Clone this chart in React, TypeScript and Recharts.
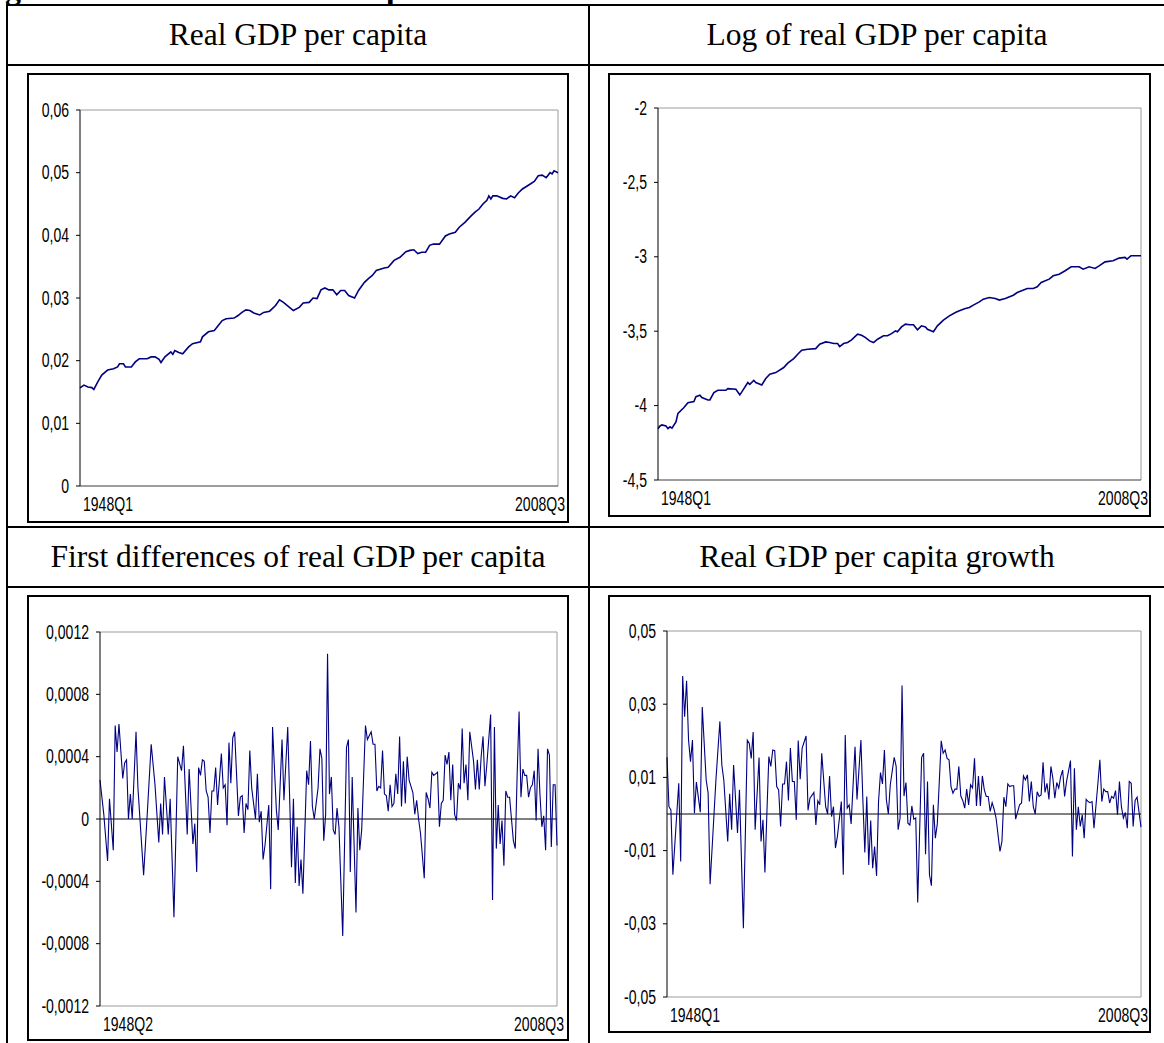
import { Line, LineChart, ReferenceLine, XAxis, YAxis } from 'recharts';

// [quarter index since 1948Q1, value]
const LEVEL: [number, number][] = [
  [0, 0.01565], [2, 0.0161], [4, 0.0158], [6, 0.0157], [7, 0.0154], [9, 0.0166], [11, 0.0177], [14, 0.0185], [17, 0.0187], [19, 0.019],
  [20, 0.0195], [22, 0.0195], [23, 0.019], [26, 0.019], [28, 0.0198], [30, 0.0203], [34, 0.0203], [36, 0.0206], [38, 0.0206], [40, 0.0202],
  [41, 0.0197], [43, 0.0206], [46, 0.0214], [47, 0.021], [48, 0.0216], [50, 0.0213], [52, 0.0211], [55, 0.0222], [57, 0.0227], [61, 0.023],
  [62, 0.0238], [65, 0.0246], [68, 0.0248], [70, 0.0256], [72, 0.0264], [74, 0.0267], [78, 0.0268], [80, 0.0272], [82, 0.0277], [84, 0.0281],
  [86, 0.028], [88, 0.0276], [91, 0.0273], [93, 0.0277], [96, 0.0279], [99, 0.0288], [101, 0.0297], [103, 0.0293], [105, 0.0288], [108, 0.028],
  [111, 0.0285], [113, 0.0292], [116, 0.0293], [118, 0.03], [120, 0.0299], [122, 0.0313], [124, 0.0316], [126, 0.0313], [128, 0.0313], [130, 0.0305],
  [132, 0.0312], [134, 0.0312], [136, 0.0304], [139, 0.03], [141, 0.0312], [144, 0.0325], [146, 0.0331], [148, 0.0336], [150, 0.0344], [154, 0.0348],
  [156, 0.0349], [159, 0.036], [162, 0.0365], [165, 0.0374], [167, 0.0376], [169, 0.0377], [171, 0.0371], [173, 0.0373], [175, 0.0373], [177, 0.0384],
  [179, 0.0386], [182, 0.0386], [185, 0.0399], [187, 0.0402], [190, 0.0405], [192, 0.0413], [195, 0.0421], [198, 0.0431], [200, 0.0437], [202, 0.0442],
  [204, 0.045], [206, 0.0456], [207, 0.0463], [208, 0.0458], [209, 0.0463], [211, 0.0463], [214, 0.0459], [216, 0.0458], [218, 0.0463], [220, 0.046],
  [222, 0.0468], [224, 0.0474], [227, 0.048], [230, 0.0486], [232, 0.0495], [234, 0.0496], [236, 0.0492], [238, 0.05], [239, 0.0498], [240, 0.0503],
  [242, 0.05],
];

const LOG_LEVEL: [number, number][] = [
  [0, -4.155], [1, -4.137], [2, -4.13], [4, -4.137], [5, -4.155], [6, -4.143], [7, -4.152], [9, -4.11], [10, -4.052], [13, -4.013],
  [15, -3.98], [18, -3.973], [19, -3.94], [21, -3.93], [22, -3.946], [25, -3.962], [26, -3.962], [28, -3.913], [30, -3.897], [34, -3.897],
  [35, -3.886], [39, -3.89], [41, -3.928], [42, -3.908], [45, -3.845], [46, -3.857], [48, -3.83], [49, -3.845], [52, -3.861], [54, -3.818],
  [56, -3.789], [59, -3.778], [63, -3.744], [65, -3.715], [68, -3.684], [70, -3.655], [72, -3.628], [75, -3.621], [79, -3.617], [81, -3.587],
  [84, -3.572], [86, -3.576], [88, -3.583], [90, -3.583], [91, -3.603], [93, -3.583], [95, -3.576], [97, -3.558], [100, -3.52], [102, -3.527],
  [104, -3.543], [106, -3.565], [108, -3.576], [110, -3.554], [113, -3.531], [115, -3.531], [117, -3.516], [119, -3.498], [120, -3.504], [122, -3.471],
  [124, -3.453], [126, -3.457], [128, -3.457], [130, -3.491], [132, -3.464], [134, -3.471], [135, -3.487], [138, -3.504], [140, -3.464], [143, -3.426],
  [146, -3.397], [149, -3.374], [151, -3.363], [154, -3.348], [156, -3.341], [158, -3.325], [161, -3.303], [163, -3.285], [166, -3.274], [169, -3.28],
  [171, -3.291], [174, -3.28], [178, -3.258], [180, -3.24], [185, -3.213], [188, -3.213], [190, -3.202], [192, -3.173], [196, -3.15], [198, -3.128],
  [201, -3.117], [204, -3.094], [207, -3.067], [211, -3.067], [213, -3.083], [216, -3.067], [219, -3.078], [221, -3.061], [224, -3.034], [228, -3.027],
  [231, -3.009], [234, -3.004], [235, -3.016], [237, -2.993], [239, -2.993], [242, -2.993],
];

const FIRST_DIFF: [number, number][] = [
  [1, 0.00025], [3, 0.00003], [5, -0.00027], [6, 0.00013], [8, -0.0002], [9, 0.0006], [10, 0.00043], [11, 0.00061], [13, 0.00026], [14, 0.00036],
  [15, 0.00038], [16, 0], [17, 0.00016], [18, 0], [20, 0.00056], [21, 0.0002], [24, -0.00036], [26, 0.00005], [28, 0.00048], [30, 0.00022],
  [32, -0.00015], [33, 0.0001], [34, -0.0001], [35, 0.00027], [37, -0.0001], [38, 0.00013], [40, -0.00063], [42, 0.0004], [44, 0.00031], [45, 0.00047],
  [47, -0.0001], [48, 0.00032], [50, -0.00016], [51, -0.00003], [52, -0.00034], [53, 0.00033], [54, 0.00028], [55, 0.00038], [56, 0.00037], [57, 0.00018],
  [58, 0.00014], [59, -0.00009], [60, 0.00018], [61, 0.00018], [62, 0.00033], [63, 0.00009], [65, 0.00042], [66, 0.0002], [67, 0.00022], [68, -0.00004],
  [69, 0.00049], [70, 0.00023], [71, 0.00052], [72, 0.00056], [74, 0.00002], [75, 0.00014], [76, 0.00015], [77, -0.00009], [78, 0.0001], [79, 0.00006],
  [80, 0.00044], [81, 0.0002], [83, 0], [84, 0.00029], [85, -0.00002], [86, 0.00005], [87, -0.00026], [88, -0.00017], [90, 0.00009], [91, -0.00045],
  [92, 0.00059], [94, 0.00006], [95, -0.00007], [97, 0.00051], [98, 0.00012], [100, 0.00059], [102, -0.00031], [103, 0.00013], [104, -0.00041], [105, -0.00005],
  [106, -0.00043], [107, -0.00026], [108, -0.00048], [110, 0.00031], [111, 0.00022], [112, 0.0005], [113, 0.00008], [114, 0], [116, 0.0002], [117, 0.00045],
  [118, 0.00039], [119, -0.00014], [120, 0.00003], [121, 0.00106], [122, 0.00016], [123, 0.00027], [124, -0.00007], [125, -0.0001], [126, 0.00007], [127, -0.00005],
  [129, -0.00075], [131, 0.00046], [132, 0.00051], [133, -0.00034], [134, 0.00027], [136, -0.0006], [137, 0.00007], [138, -0.0002], [139, -0.00007], [141, 0.0006],
  [142, 0.00051], [144, 0.00056], [145, 0.00048], [146, 0.00048], [147, 0.00018], [148, 0.00021], [149, 0.0002], [150, 0.00044], [151, 0.00016], [152, 0.00015],
  [153, 0.00005], [154, 0.00022], [155, 0.00008], [156, 0.0001], [157, 0.00029], [158, 0.00016], [159, 0.00053], [160, 0.00008], [161, 0.00037], [162, 0.0001],
  [163, 0.0004], [164, 0.00025], [166, 0.00017], [167, 0.00003], [168, 0.00012], [169, 0], [170, -0.00009], [172, -0.00038], [173, 0.00017], [174, 0.00013],
  [175, 0.00007], [176, 0.0003], [177, 0.00028], [178, 0.00029], [179, 0.0003], [180, -0.00005], [181, 0.0001], [182, 0.00012], [183, 0.00041], [184, 0.00035],
  [185, 0.00043], [186, 0.00012], [187, 0.00035], [188, 0.00003], [189, -0.00001], [190, 0.00023], [191, 0.00019], [192, 0.00058], [193, 0.00023], [194, 0.00035],
  [195, 0.00012], [196, 0.00056], [198, 0.00037], [199, 0.00019], [200, 0.00038], [201, 0.00019], [202, 0.0004], [203, 0.00053], [204, 0.00021], [205, 0.00035],
  [207, 0.00067], [208, -0.00052], [209, 0.00059], [210, -0.00019], [211, 0.00009], [212, -0.00016], [213, -0.00001], [214, -0.0003], [215, 0.00018], [216, 0.00014],
  [217, 0.00014], [219, -0.00014], [220, -0.00019], [221, 0.00029], [222, 0.00069], [223, 0.00014], [224, 0.00032], [225, 0.00028], [226, 0.00028], [227, 0.00014],
  [228, 0.0002], [229, 0.00022], [230, 0.00031], [231, -0.00001], [232, 0.00045], [233, 0.00016], [234, -0.00005], [235, 0.00002], [236, -0.0002], [237, 0.00045],
  [238, 0.00041], [239, -0.00018], [240, 0.00022], [241, 0.00022], [242, -0.00017],
];

const GROWTH: [number, number][] = [
  [0, 0.0155], [1, 0.002], [2, 0.0011], [3, -0.0166], [6, 0.0084], [7, -0.013], [8, 0.0377], [9, 0.0266], [10, 0.0364], [11, 0.0202],
  [12, 0.0143], [13, 0.0202], [14, 0.0002], [15, 0.0087], [17, 0.0005], [18, 0.0292], [20, 0.0093], [21, 0.0057], [22, -0.0192], [25, 0.0095],
  [27, 0.0253], [28, 0.0134], [29, 0.0093], [31, -0.0075], [32, 0.0055], [33, -0.0043], [34, 0.0134], [36, -0.0052], [37, 0.0066], [39, -0.0312],
  [41, 0.0202], [42, 0.0193], [43, 0.0152], [44, 0.0224], [45, -0.0043], [47, 0.0154], [48, -0.0075], [49, -0.0016], [50, -0.016], [51, 0.0002],
  [52, 0.0157], [53, 0.013], [54, 0.0175], [55, 0.0173], [56, 0.0075], [57, 0.0066], [58, -0.0034], [59, 0.0082], [60, 0.0082], [61, 0.0143],
  [62, 0.0037], [63, 0.018], [64, 0.0089], [65, 0.0089], [66, -0.0016], [67, 0.0201], [68, 0.0095], [69, 0.018], [71, 0.0213], [72, 0.001],
  [73, 0.0043], [75, 0.0059], [76, -0.003], [77, 0.0036], [78, 0.0025], [79, 0.0166], [81, 0.002], [82, 0], [83, 0.0104], [84, -0.0007],
  [85, 0.002], [86, -0.0093], [87, -0.0061], [89, 0.0034], [90, -0.0166], [91, 0.0216], [92, 0.0016], [93, 0.0025], [94, -0.0027], [96, 0.0184],
  [97, 0.004], [99, 0.0202], [100, 0.0039], [101, -0.0105], [102, 0.0048], [103, -0.0139], [104, -0.0018], [105, -0.0148], [106, -0.0089], [107, -0.0169],
  [108, 0.0034], [109, 0.0113], [110, 0.0082], [111, 0.0175], [112, 0.0039], [113, 0], [114, 0.008], [116, 0.0155], [117, 0.013], [118, -0.0043],
  [119, -0.0011], [120, 0.0351], [121, 0.0049], [122, 0.0086], [123, -0.0025], [124, -0.003], [125, 0.0022], [126, -0.0014], [127, -0.0011], [128, -0.0242],
  [130, 0.0155], [131, 0.0166], [132, -0.011], [133, 0.0089], [134, -0.0166], [135, -0.0196], [136, 0.0025], [137, -0.0066], [138, -0.0027], [140, 0.02],
  [141, 0.0166], [142, 0.0175], [143, 0.0152], [144, 0.0148], [145, 0.0075], [146, 0.0057], [147, 0.0068], [148, 0.0068], [149, 0.013], [150, 0.0049],
  [151, 0.0037], [152, 0.0016], [153, 0.0068], [154, 0.0025], [155, 0.008], [156, 0.0071], [157, 0.0152], [158, 0.0022], [159, 0.0104], [160, 0.0022],
  [161, 0.0104], [162, 0.0066], [163, 0.0048], [164, 0.0048], [165, 0.0007], [166, 0.0031], [167, 0.0013], [168, -0.0011], [170, -0.0102], [171, -0.0075],
  [172, 0.0046], [173, 0.002], [174, 0.0082], [175, 0.0075], [176, 0.0077], [177, 0.0077], [178, -0.0014], [180, 0.0025], [181, 0.003], [182, 0.0104],
  [183, 0.0093], [184, 0.0107], [185, 0.0034], [186, 0.0089], [187, 0.002], [188, 0], [189, 0.0061], [190, 0.0048], [191, 0.0052], [192, 0.0141],
  [193, 0.0059], [194, 0.0084], [195, 0.004], [196, 0.013], [197, 0.0098], [198, 0.0043], [199, 0.0086], [200, 0.0071], [201, 0.0102], [202, 0.012],
  [203, 0.0048], [204, 0.0089], [206, 0.0146], [207, -0.0116], [208, 0.0125], [209, -0.0043], [210, 0.002], [211, -0.0034], [212, -0.0002], [213, -0.0066],
  [214, 0.004], [215, 0.0034], [216, 0.0031], [217, 0.0034], [218, -0.0039], [220, 0.0084], [221, 0.0148], [222, 0.0034], [223, 0.0068], [224, 0.0061],
  [225, 0.0061], [226, 0.003], [227, 0.0048], [228, 0.0043], [229, 0.0064], [230, -0.0002], [231, 0.0089], [232, 0.002], [233, -0.0011], [234, 0.0004],
  [235, -0.0039], [236, 0.0089], [237, 0.0084], [238, -0.0034], [239, 0.0037], [240, 0.0046], [242, -0.0036],
];

const LEVEL_TICKS = [0, 0.01, 0.02, 0.03, 0.04, 0.05, 0.06];
const LOG_TICKS = [-4.5, -4, -3.5, -3, -2.5, -2];
const DIFF_TICKS = [-0.0012, -0.0008, -0.0004, 0, 0.0004, 0.0008, 0.0012];
const GROWTH_TICKS = [-0.05, -0.03, -0.01, 0.01, 0.03, 0.05];
const LABELS_FROM_Q1 = ['1948Q1', '2008Q3'];
const LABELS_FROM_Q2 = ['1948Q2', '2008Q3'];
const TITLES = [
  'Real GDP per capita',
  'Log of real GDP per capita',
  'First differences of real GDP per capita',
  'Real GDP per capita growth',
];

const LAST_Q = 242;
const NAVY = '#000080';
const SANS = "'Liberation Sans', Arial, sans-serif";
const SERIF = "'Liberation Serif', 'Times New Roman', serif";

const comma = (v: number) => String(v).replace('.', ',');

function YTick(props: any) {
  const { x, y, payload } = props;
  return (
    <g transform={`translate(${x},${y}) scale(0.72,1)`}>
      <text textAnchor="end" dy="0.34em" fontSize={19.5} fontFamily={SANS} fill="#000">
        {comma(payload.value)}
      </text>
    </g>
  );
}

const xTick = (labels: string[]) => (props: any) => {
  const { x, y, index } = props;
  const first = index === 0;
  return (
    <g transform={`translate(${x + (first ? 3 : 7)},${y + 18}) scale(0.72,1)`}>
      <text textAnchor={first ? 'start' : 'end'} dy="0.34em" fontSize={19.5} fontFamily={SANS} fill="#000">
        {labels[index]}
      </text>
    </g>
  );
};

interface PanelProps {
  series: [number, number][];
  yTicks: number[];
  xLabels: string[];
  xMin: number;
  zero: boolean;
  left: number;
  top: number;
  plotW: number;
  plotH: number;
  sw: number;
}

function Panel({ series, yTicks, xLabels, xMin, zero, left, top, plotW, plotH, sw }: PanelProps) {
  const yw = 75;
  const mt = 12;
  const mr = 15;
  const xh = 30;
  const data = series.map(([q, v]) => ({ q, v }));
  const yMin = yTicks[0];
  const yMax = yTicks[yTicks.length - 1];
  return (
    <div style={{ position: 'absolute', left: left - yw, top: top - mt }}>
      <LineChart width={yw + plotW + mr} height={mt + plotH + xh} data={data} margin={{ top: mt, right: mr, bottom: 0, left: 0 }}>
        <XAxis
          dataKey="q"
          type="number"
          domain={[xMin, LAST_Q]}
          ticks={[xMin, LAST_Q]}
          interval={0}
          height={xh}
          tickSize={0}
          tickMargin={0}
          tickLine={false}
          axisLine={{ stroke: zero ? '#9a9a9a' : '#3a3a3a' }}
          tick={xTick(xLabels)}
        />
        <YAxis
          type="number"
          domain={[yMin, yMax]}
          ticks={yTicks}
          interval={0}
          width={yw}
          tickSize={4}
          tickMargin={7}
          tickLine={{ stroke: '#000' }}
          axisLine={{ stroke: '#000' }}
          tick={YTick}
          allowDataOverflow
        />
        <ReferenceLine y={yMax} stroke="#9a9a9a" />
        <ReferenceLine x={LAST_Q} stroke="#9a9a9a" />
        {zero && <ReferenceLine y={0} stroke="#000" />}
        <Line type="linear" dataKey="v" stroke={NAVY} strokeWidth={sw} dot={false} isAnimationActive={false} />
      </LineChart>
    </div>
  );
}

const abs = (left: number, top: number, width: number, height: number) => ({
  position: 'absolute' as const, left, top, width, height,
});

export default function App() {
  const rule = (l: number, t: number, w: number, h: number) => (
    <div style={{ ...abs(l, t, w, h), background: '#000' }} />
  );
  const frame = (l: number, t: number, w: number, h: number) => (
    <div style={{ ...abs(l, t, w, h), border: '2px solid #000', boxSizing: 'border-box' }} />
  );
  const title = (text: string, l: number, t: number, w: number) => (
    <div style={{ ...abs(l, t, w, 60), lineHeight: '60px', textAlign: 'center', fontFamily: SERIF, fontSize: 31.5, color: '#000', whiteSpace: 'nowrap' }}>
      {text}
    </div>
  );
  return (
    <div style={{ ...abs(0, 0, 1164, 1043), background: '#fff', overflow: 'hidden' }}>
      {/* descenders of the heading line cut off above the table */}
      <div style={{ ...abs(0, 0, 1164, 4), overflow: 'hidden' }}>
        <span style={{ position: 'absolute', left: 5, top: -27, fontFamily: SERIF, fontWeight: 'bold', fontSize: 32, lineHeight: '30px' }}>g</span>
        <span style={{ position: 'absolute', left: 386, top: -27, fontFamily: SERIF, fontWeight: 'bold', fontSize: 32, lineHeight: '30px' }}>p</span>
      </div>

      {rule(6, 4, 1158, 2)}
      {rule(6, 64, 1158, 2)}
      {rule(6, 526, 1158, 2)}
      {rule(6, 586, 1158, 2)}
      {rule(6, 4, 2, 1039)}
      {rule(588, 4, 2, 1039)}

      {title(TITLES[0], 8, 5, 580)}
      {title(TITLES[1], 590, 5, 574)}
      {title(TITLES[2], 8, 527, 580)}
      {title(TITLES[3], 590, 527, 574)}

      {frame(27, 73, 542, 450)}
      {frame(608, 73, 543, 444)}
      {frame(27, 595, 542, 446)}
      {frame(608, 595, 543, 438)}

      <Panel series={LEVEL} yTicks={LEVEL_TICKS} xLabels={LABELS_FROM_Q1} xMin={0} zero={false} left={80} top={110} plotW={478} plotH={376} sw={1.6} />
      <Panel series={LOG_LEVEL} yTicks={LOG_TICKS} xLabels={LABELS_FROM_Q1} xMin={0} zero={false} left={658} top={108} plotW={483} plotH={372} sw={1.6} />
      <Panel series={FIRST_DIFF} yTicks={DIFF_TICKS} xLabels={LABELS_FROM_Q2} xMin={1} zero left={100} top={632} plotW={457} plotH={374} sw={1.1} />
      <Panel series={GROWTH} yTicks={GROWTH_TICKS} xLabels={LABELS_FROM_Q1} xMin={0} zero left={667} top={631} plotW={474} plotH={366} sw={1.1} />
    </div>
  );
}
